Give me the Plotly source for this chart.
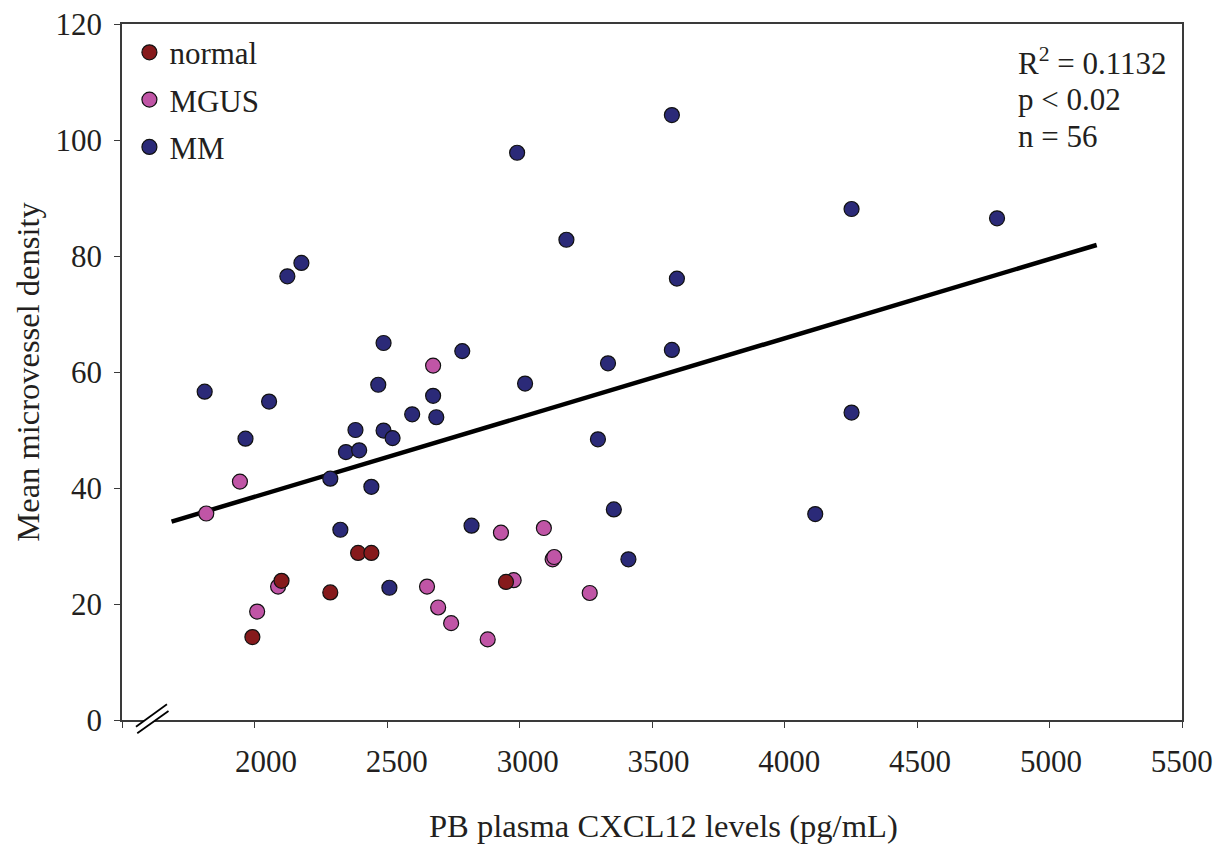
import plotly.graph_objects as go

# ---- data ----
mm_x = [3575, 2991, 3177, 4253, 4802, 2177, 2124, 3594, 2487, 2784, 3575, 3334,
        3021, 2467, 1812, 2674, 2055, 2595, 2686, 4253, 2381, 2487, 2521, 1966,
        3296, 2345, 2395, 2286, 2441, 3356, 4116, 2324, 2819, 3411, 2509]
mm_y = [104.3, 97.8, 82.8, 88.1, 86.5, 78.8, 76.5, 76.1, 65.0, 63.6, 63.8, 61.5,
        58.0, 57.8, 56.6, 55.9, 54.9, 52.7, 52.2, 53.0, 50.0, 49.9, 48.6, 48.5,
        48.4, 46.2, 46.5, 41.6, 40.2, 36.3, 35.5, 32.8, 33.5, 27.7, 22.8]

mgus_x = [2674, 1945, 1818, 2930, 3092, 3125, 3131, 2089, 2978, 2651, 3265,
          2693, 2010, 2742, 2880]
mgus_y = [61.1, 41.1, 35.6, 32.3, 33.1, 27.7, 28.1, 23.0, 24.1, 23.0, 21.9,
          19.4, 18.7, 16.7, 13.9]

normal_x = [2391, 2441, 2102, 2286, 2949, 1992]
normal_y = [28.8, 28.8, 24.0, 22.0, 23.8, 14.3]

trend_x = [1687, 5178]
trend_y = [34.2, 81.9]

x_ticks = [1500, 2000, 2500, 3000, 3500, 4000, 4500, 5000, 5500]
x_label_vals = [2000, 2500, 3000, 3500, 4000, 4500, 5000, 5500]
y_ticks = [0, 20, 40, 60, 80, 100, 120]

stats_lines = ["R<sup>2</sup> = 0.1132", "p < 0.02", "n = 56"]

FONT = "Liberation Serif, serif"
TXT = "#231f20"

fig = go.Figure()

fig.add_trace(go.Scatter(
    x=trend_x, y=trend_y, mode="lines",
    line=dict(color="black", width=4.5), showlegend=False, hoverinfo="skip"))

def add_group(x, y, name, color, rank):
    fig.add_trace(go.Scatter(
        x=x, y=y, mode="markers", name=name, legendrank=rank, legendgroup=name,
        marker=dict(size=15, color=color, line=dict(color="#111", width=1.2))))

add_group(mm_x, mm_y, "MM", "#2b2a78", 3)
add_group(mgus_x, mgus_y, "MGUS", "#c055a6", 2)
add_group(normal_x, normal_y, "normal", "#861a1c", 1)

# empty trace so the label-only overlay axis is drawn
fig.add_trace(go.Scatter(x=[], y=[], xaxis="x2", yaxis="y", showlegend=False,
                         hoverinfo="skip"))

fig.update_layout(
    width=1231, height=855,
    margin=dict(l=122, r=49, t=24, b=135),
    paper_bgcolor="white", plot_bgcolor="white",
    font=dict(family=FONT, color=TXT, size=31),
    legend=dict(x=0.007, y=0.9976, xanchor="left", yanchor="top",
                traceorder="grouped",
                font=dict(size=31, family=FONT, color=TXT),
                bgcolor="rgba(0,0,0,0)", tracegroupgap=4,
                itemsizing="trace"),
    xaxis=dict(range=[1500, 5500], tickvals=x_ticks, showticklabels=False,
               showgrid=False, zeroline=False, showline=True, automargin=False,
               linecolor="#3a3a3a", linewidth=1.5, mirror=True,
               ticks="outside", ticklen=6, tickcolor="#3a3a3a"),
    # tick labels in the reference are spaced slightly tighter than the ticks
    xaxis2=dict(range=[1449.5, 5501.2], tickvals=x_label_vals,
                overlaying="x", anchor="y", side="bottom",
                showgrid=False, zeroline=False, showline=False, automargin=False,
                ticks="outside", ticklen=6, tickcolor="rgba(0,0,0,0)",
                ticklabelstandoff=8,
                tickfont=dict(size=31, family=FONT, color=TXT)),
    yaxis=dict(range=[0, 120], tickvals=y_ticks,
               showgrid=False, zeroline=False, showline=True, automargin=False,
               linecolor="#3a3a3a", linewidth=1.5, mirror=True,
               ticks="outside", ticklen=6, tickcolor="#3a3a3a",
               ticklabelstandoff=6,
               tickfont=dict(size=31, family=FONT, color=TXT),
               title=dict(text="Mean microvessel density",
                          font=dict(size=32.5, family=FONT, color=TXT),
                          standoff=6)),
)

# x-axis title (placed as annotation to match its slight right offset)
fig.add_annotation(
    xref="paper", yref="paper", x=0.5104, y=-0.1523, xanchor="center", yanchor="middle",
    showarrow=False, text="PB plasma CXCL12 levels (pg/mL)",
    font=dict(size=32.6, family=FONT, color=TXT))

# statistics text
for txt, yp in zip(stats_lines, [0.9458, 0.8912, 0.838]):
    fig.add_annotation(
        xref="paper", yref="paper", x=0.843, y=yp, xanchor="left", yanchor="middle",
        align="left", showarrow=False, text=txt,
        font=dict(size=31, family=FONT, color=TXT))

# axis break marks
fig.add_shape(type="path", xref="paper", yref="paper",
              path="M 0.0132 -0.0096 L 0.0424 0.0226 L 0.0439 0.0129 L 0.0144 -0.0191 Z",
              fillcolor="white", line=dict(width=0), layer="above")
fig.add_shape(type="line", xref="paper", yref="paper",
              x0=0.0132, y0=-0.0096, x1=0.0424, y1=0.0226,
              line=dict(color="black", width=1.8), layer="above")
fig.add_shape(type="line", xref="paper", yref="paper",
              x0=0.0144, y0=-0.0191, x1=0.0439, y1=0.0129,
              line=dict(color="black", width=1.8), layer="above")

fig.write_html("out.html")
